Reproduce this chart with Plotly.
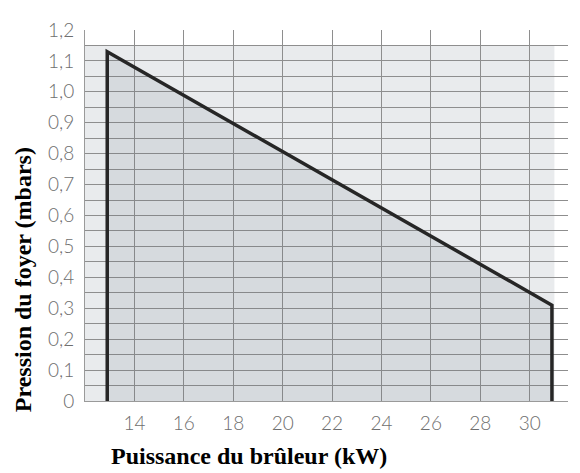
import plotly.graph_objects as go

# Data
power_kw = [12.9, 12.9, 30.9, 30.9]
pressure_mbar = [0.0, 1.13, 0.31, 0.0]
x_ticks = [14, 16, 18, 20, 22, 24, 26, 28, 30]
y_tick_vals = [0, 0.1, 0.2, 0.3, 0.4, 0.5, 0.6, 0.7, 0.8, 0.9, 1.0, 1.1, 1.2]
y_tick_text = ["0", "0,1", "0,2", "0,3", "0,4", "0,5", "0,6", "0,7", "0,8", "0,9", "1,0", "1,1", "1,2"]
zone_x = [12, 31]
zone_y = [0, 1.15]

fig = go.Figure()
fig.add_trace(go.Scatter(
    x=power_kw, y=pressure_mbar, mode="lines",
    fill="tozeroy", fillcolor="rgba(90,105,120,0.13)",
    line=dict(color="#262626", width=3.5),
    hoverinfo="skip", showlegend=False,
))

fig.add_shape(type="rect", x0=zone_x[0], x1=zone_x[1], y0=zone_y[0], y1=zone_y[1],
              xref="x", yref="y", layer="below", line=dict(width=0),
              fillcolor="#e9ebed")

tick_font = dict(family="Lato", size=19, color="#6e6e6e", weight=300)
grid_col = "#8e8e8e"

fig.update_xaxes(range=[12, 31.55], tickvals=x_ticks, showgrid=True, gridcolor=grid_col,
                 gridwidth=1, showline=True, linecolor="#9a9a9a", linewidth=1,
                 zeroline=False, tickfont=tick_font, ticks="", ticklabelstandoff=5,
                 ticklabeloverflow="allow")
fig.update_yaxes(range=[0, 1.2], tickvals=y_tick_vals, ticktext=y_tick_text, showgrid=True,
                 gridcolor=grid_col, gridwidth=1, showline=True, linecolor="#9a9a9a",
                 linewidth=1, zeroline=False, tickfont=tick_font, ticks="",
                 minor=dict(dtick=0.05, tick0=0, showgrid=True, gridcolor=grid_col, gridwidth=1),
                 ticklabelstandoff=6, ticklabeloverflow="allow")

title_font = dict(family="Liberation Serif", size=24, color="#000000", weight="bold")
fig.add_annotation(text="Pression du foyer (mbars)", xref="paper", yref="paper",
                   x=-0.128, y=0.326, textangle=-90, showarrow=False, font=title_font,
                   xanchor="center", yanchor="middle")
fig.add_annotation(text="Puissance du brûleur (kW)", xref="paper", yref="paper",
                   x=0.34, y=-0.147, showarrow=False, font=title_font,
                   xanchor="center", yanchor="middle")

fig.update_layout(width=572, height=465, margin=dict(l=77, r=12, t=10, b=72),
                  plot_bgcolor="white", paper_bgcolor="white")

fig.write_html("out.html")
